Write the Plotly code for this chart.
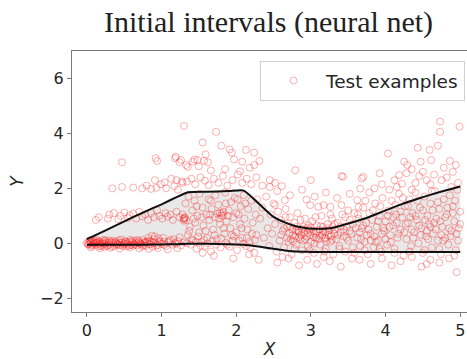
import plotly.graph_objects as go

# ---- interval bounds (neural net) ----
bound_x = [0, 0.25, 0.5, 0.75, 1.0, 1.2, 1.35, 1.6, 1.9, 2.1, 2.3, 2.5, 2.65, 2.8,
           2.95, 3.1, 3.3, 3.5, 3.75, 4.0, 4.2, 4.45, 4.65, 4.85, 5.0]
upper = [0.15, 0.47, 0.80, 1.12, 1.42, 1.68, 1.86, 1.88, 1.90, 1.92, 1.45, 0.96, 0.76,
         0.62, 0.55, 0.53, 0.57, 0.72, 0.93, 1.20, 1.41, 1.64, 1.81, 1.96, 2.07]
lower = [-0.05, -0.05, -0.05, -0.05, -0.04, -0.03, -0.02, -0.02, -0.03, -0.05, -0.12,
         -0.20, -0.26, -0.30, -0.31, -0.32, -0.32, -0.32, -0.32, -0.32, -0.32, -0.32,
         -0.32, -0.32, -0.32]

# ---- test examples ----
pts_a_zero = [
    (0.00, 0.02), (0.02, -0.05), (0.03, 0.08), (0.05, 0.00), (0.06, -0.10), (0.08, 0.05),
    (0.09, -0.02), (0.11, 0.10), (0.12, -0.06), (0.14, 0.03), (0.15, -0.12), (0.17, 0.06),
    (0.19, 0.00), (0.20, -0.08), (0.22, 0.04), (0.24, -0.03), (0.25, 0.09), (0.27, -0.10),
    (0.29, 0.02), (0.31, -0.05), (0.33, 0.07), (0.35, 0.00), (0.37, -0.09), (0.39, 0.05),
    (0.41, -0.02), (0.43, 0.11), (0.45, -0.07), (0.47, 0.03), (0.49, -0.04), (0.51, 0.08),
    (0.53, -0.11), (0.55, 0.01), (0.57, 0.06), (0.59, -0.06), (0.61, 0.03), (0.63, -0.02),
    (0.65, 0.10), (0.67, -0.08), (0.69, 0.04), (0.71, 0.00), (0.73, -0.05), (0.75, 0.12),
    (0.77, 0.02), (0.79, -0.09), (0.81, 0.07), (0.83, -0.03), (0.86, 0.05), (0.88, -0.12),
    (0.90, 0.15), (0.92, 0.00), (0.95, -0.06), (0.97, 0.09), (1.00, -0.02), (1.03, 0.06),
    (1.06, -0.10), (1.09, 0.03), (1.12, 0.12), (1.15, -0.05), (1.18, 0.01), (1.22, 0.08),
    (1.26, -0.08), (1.30, 0.04),
    (0.01, -0.01), (0.04, 0.12), (0.07, -0.07), (0.10, 0.01), (0.13, 0.13), (0.16, -0.03),
    (0.21, 0.11), (0.23, -0.13), (0.26, 0.01), (0.30, 0.10), (0.34, -0.12), (0.38, 0.02),
    (0.42, -0.06), (0.46, 0.14), (0.50, 0.00), (0.54, -0.03), (0.58, 0.13), (0.62, -0.09),
    (0.66, 0.01), (0.70, 0.08), (0.74, -0.12), (0.78, 0.05), (0.82, 0.20), (0.85, -0.04),
    (0.91, 0.25), (0.96, 0.18), (1.02, 0.20),
]
pts_a_zero_more = [
    (0.03, -0.03), (0.06, 0.04), (0.09, 0.09), (0.12, 0.02), (0.15, 0.05), (0.18, -0.10),
    (0.21, -0.01), (0.24, 0.12), (0.28, -0.07), (0.32, 0.03), (0.36, 0.09), (0.40, -0.04),
    (0.44, 0.02), (0.48, -0.10), (0.52, 0.05), (0.56, -0.08), (0.60, 0.09), (0.64, -0.04),
    (0.68, 0.12), (0.72, -0.01), (0.76, -0.07), (0.80, 0.03), (0.84, 0.10), (0.87, 0.28),
    (0.89, 0.02), (0.93, -0.08), (0.98, 0.05), (1.04, -0.05), (1.10, 0.08), (1.16, 0.15),
    (1.20, -0.02), (1.24, 0.22),
    (0.05, -0.15), (0.18, -0.18), (0.31, -0.16), (0.44, -0.19), (0.57, -0.15), (0.70, -0.18),
    (0.83, -0.20), (0.95, -0.17), (1.08, -0.22), (1.21, -0.18),
]
pts_a_upper = [
    (0.12, 0.85), (0.16, 0.95), (0.28, 0.90), (0.30, 1.05), (0.36, 1.10), (0.42, 0.88),
    (0.45, 1.00), (0.50, 1.12), (0.55, 0.92), (0.57, 1.02), (0.62, 1.08), (0.66, 0.90),
    (0.70, 1.15), (0.74, 0.98), (0.78, 1.05), (0.82, 0.85), (0.86, 1.10), (0.90, 0.95),
    (0.94, 1.20), (0.97, 1.00), (1.01, 0.90), (1.05, 1.10), (1.08, 0.97), (1.12, 1.05),
    (1.15, 0.85), (1.20, 1.15), (1.24, 0.95), (1.28, 1.05),
    (0.34, 2.00), (0.47, 2.05), (0.62, 2.03), (0.74, 2.00), (0.80, 2.10), (0.86, 1.98),
    (0.91, 2.30), (0.93, 2.02), (0.99, 2.15), (1.04, 2.22), (1.06, 2.00), (1.13, 2.35),
    (1.17, 2.08), (1.22, 1.95), (1.27, 2.25),
    (0.47, 2.95), (0.92, 3.10), (0.94, 3.00), (1.18, 3.10),
]
pts_b = [
    (1.30, 4.27), (1.73, 4.06), (1.55, 3.67), (1.91, 3.42), (1.94, 3.30), (1.97, 3.05),
    (1.59, 3.24), (1.19, 3.15), (1.26, 3.03), (1.35, 2.78), (1.42, 2.97), (1.48, 3.03),
    (2.13, 3.40), (2.24, 3.30), (2.31, 3.00), (2.24, 2.85), (2.08, 2.97), (1.62, 2.95),
    (1.50, 2.80), (1.80, 3.55),
    (1.20, 2.30), (1.28, 2.20), (1.34, 2.25), (1.40, 2.35), (1.45, 2.15), (1.52, 2.40),
    (1.58, 2.28), (1.63, 2.12), (1.70, 2.35), (1.76, 2.20), (1.82, 2.45), (1.88, 2.10),
    (1.95, 2.30), (2.02, 2.50), (2.08, 2.20), (2.14, 2.35), (2.20, 2.15), (2.27, 2.40),
    (2.35, 2.10), (2.45, 2.30), (2.52, 2.20),
    (1.24, 2.95), (1.33, 2.85), (1.44, 3.05), (1.57, 3.00), (1.66, 2.65), (1.85, 2.70),
    (2.05, 2.62), (2.18, 2.75),
    (1.30, 0.90), (1.31, 0.95), (1.33, 0.85), (1.32, 1.45), (1.35, 0.30), (1.36, 1.70),
    (1.38, 0.60), (1.39, -0.05), (1.41, 1.20), (1.42, 0.10), (1.44, 1.55), (1.45, 0.75),
    (1.47, -0.20), (1.48, 1.00), (1.50, 0.40), (1.51, 1.80), (1.53, 0.05), (1.55, 1.30),
    (1.56, 0.65), (1.58, -0.10), (1.60, 1.05), (1.61, 0.20), (1.63, 1.60), (1.64, 0.85),
    (1.66, -0.30), (1.67, 1.25), (1.69, 0.50), (1.71, 0.95), (1.72, 1.75), (1.74, 0.15),
    (1.76, 1.40), (1.78, 0.70), (1.79, -0.15), (1.81, 1.10), (1.82, 1.00), (1.84, 0.35),
    (1.85, 1.85), (1.87, 0.80), (1.88, -0.05), (1.90, 1.20), (1.92, 0.55), (1.93, 1.50),
    (1.95, 0.10), (1.96, 0.95), (1.98, 1.65), (2.00, 0.40), (2.01, -0.25), (2.03, 1.05),
    (2.05, 0.70), (2.06, 1.35), (2.08, 0.20), (2.10, 1.75), (2.11, 0.90), (2.13, -0.10),
    (2.15, 0.50), (2.16, 1.25), (2.18, 0.05), (2.20, 1.55), (2.22, 0.75), (2.24, -0.35),
    (2.26, 1.05), (2.27, 0.30),
    (1.34, 0.00), (1.40, 0.15), (1.46, 0.05), (1.52, -0.08), (1.57, 0.12), (1.62, 0.00),
    (1.68, 0.08), (1.73, -0.05), (1.80, 0.18), (1.86, 0.02), (1.91, -0.12), (1.97, 0.25),
    (2.04, 0.10), (2.09, -0.02), (2.14, 0.20), (2.19, -0.15), (2.25, 0.12),
    (1.70, -0.45), (1.96, -0.55), (2.17, -0.40), (2.30, -0.60), (1.55, -0.35),
    (1.29, 0.88), (1.31, 0.92), (1.30, 0.82),
    (1.75, 1.08), (1.78, 1.12), (1.80, 1.02), (1.83, 1.15),
]
pts_b_more = [
    (1.37, 0.45), (1.43, 0.90), (1.49, 0.25), (1.54, 0.95), (1.59, 0.45), (1.65, 1.05),
    (1.71, 0.30), (1.77, 0.90), (1.83, 0.55), (1.89, 1.00), (1.94, 0.30), (2.00, 1.10),
    (2.07, 0.55), (2.12, 1.45), (2.21, 0.35), (1.47, 1.35), (1.66, 1.55), (1.86, 1.45),
    (2.02, 1.60),
]
pts_c = [
    (2.79, 2.66), (2.61, 2.08), (3.41, 2.45), (3.68, 2.36), (3.66, 1.99),
    (2.65, 1.57), (2.52, 1.39), (2.94, 1.59), (2.99, 1.39), (3.10, 1.33), (3.17, 1.39),
    (3.26, 1.33), (3.41, 1.39), (3.50, 1.20), (3.62, 1.57), (3.64, 1.33),
    (2.28, 1.60), (2.32, 0.90), (2.35, 1.30), (2.37, 0.20), (2.40, 1.70), (2.42, 0.55),
    (2.44, -0.10), (2.46, 1.05), (2.48, 0.35), (2.50, 1.45), (2.52, 0.70), (2.54, -0.30),
    (2.56, 1.15), (2.58, 0.10), (2.60, 0.85), (2.62, 0.45), (2.64, -0.15), (2.66, 1.25),
    (2.68, 0.60), (2.70, 0.05), (2.72, 0.95), (2.74, -0.40), (2.76, 0.30), (2.78, 0.75),
    (2.80, -0.05), (2.82, 1.10), (2.84, 0.40), (2.86, 0.15), (2.88, -0.25), (2.90, 0.60),
    (2.92, 0.90), (2.94, 0.25), (2.96, -0.10), (2.98, 0.50), (3.00, 0.05), (3.02, 0.80),
    (3.04, -0.35), (3.06, 0.35), (3.08, 0.65), (3.10, 0.15), (3.12, -0.05), (3.14, 1.00),
    (3.16, 0.45), (3.18, 0.20), (3.20, -0.20), (3.22, 0.70), (3.24, 0.30), (3.26, 0.05),
    (3.28, 0.90), (3.30, -0.40), (3.32, 0.50), (3.34, 0.15), (3.36, 0.75), (3.38, -0.10),
    (3.40, 0.40), (3.42, 1.05), (3.44, 0.25), (3.46, -0.30), (3.48, 0.60), (3.50, 0.10),
    (3.52, 0.85), (3.54, 0.35), (3.56, -0.15), (3.58, 1.10), (3.60, 0.55),
    (2.71, 0.35), (2.75, 0.50), (2.79, 0.25), (2.83, 0.45), (2.87, 0.30), (2.91, 0.40),
    (2.95, 0.55), (2.99, 0.30), (3.03, 0.45), (3.07, 0.20), (3.11, 0.50), (3.15, 0.30),
    (3.19, 0.40), (3.23, 0.55), (3.27, 0.25), (3.31, 0.35), (2.73, 0.15), (2.81, 0.60),
    (2.89, 0.10), (2.97, 0.65), (3.05, 0.00), (3.13, 0.62), (3.21, 0.08), (3.29, 0.60),
    (2.55, -0.70), (2.70, -0.55), (2.84, -0.80), (2.95, -0.60), (3.08, -0.75),
    (3.25, -0.65), (3.40, -0.85), (3.55, -0.55), (2.62, -0.50), (3.17, -0.50),
    (2.55, 1.90), (2.72, 1.75), (2.88, 1.95), (3.05, 1.70), (3.20, 1.85), (3.35, 1.65),
    (3.52, 1.80), (2.45, 2.05), (3.00, 2.30),
]
pts_c_more = [
    (2.60, 0.30), (2.64, 0.55), (2.68, 0.20), (2.72, 0.62), (2.76, 0.08), (2.80, 0.45),
    (2.84, 0.22), (2.88, 0.52), (2.92, 0.15), (2.96, 0.38), (3.00, 0.58), (3.04, 0.22),
    (3.08, 0.42), (3.12, 0.28), (3.16, 0.60), (3.20, 0.18), (3.24, 0.48), (3.28, 0.12),
    (3.32, 0.70), (3.36, 0.30), (3.40, 0.62), (3.44, 0.50), (3.48, 0.20), (3.52, 0.45),
    (3.56, 0.70), (2.66, 0.95), (2.86, 0.85), (3.06, 0.95), (3.26, 1.05), (3.46, 0.95),
    (2.78, -0.20), (2.98, -0.25), (3.18, -0.30), (3.38, -0.20), (3.58, -0.35),
]
pts_d = [
    (3.43, 2.42), (3.70, 2.42), (3.92, 2.55), (4.03, 3.27), (4.18, 2.48), (4.22, 2.17),
    (4.25, 2.97), (4.29, 2.85), (4.28, 2.55), (4.35, 2.70), (4.43, 3.48), (4.47, 2.97),
    (4.50, 2.60), (4.55, 2.30), (4.59, 3.40), (4.61, 3.03), (4.65, 2.50), (4.70, 3.55),
    (4.73, 4.43), (4.73, 4.06), (4.78, 2.75), (4.82, 2.40), (4.86, 3.00), (4.90, 2.60),
    (4.94, 2.85), (4.99, 4.25), (4.97, 2.20), (3.85, 2.00), (3.95, 2.15), (4.05, 1.95),
    (4.12, 2.30), (4.40, 2.20), (4.60, 2.15),
    (3.62, 0.20), (3.64, 0.90), (3.66, -0.10), (3.68, 0.55), (3.70, 1.30), (3.72, 0.05),
    (3.74, 0.75), (3.76, -0.40), (3.78, 1.10), (3.80, 0.35), (3.82, 0.85), (3.84, -0.15),
    (3.86, 1.45), (3.88, 0.60), (3.90, 0.10), (3.92, 1.00), (3.94, -0.30), (3.96, 1.65),
    (3.98, 0.45), (4.00, 0.80), (4.02, -0.05), (4.04, 1.20), (4.06, 0.30), (4.08, 1.55),
    (4.10, 0.65), (4.12, -0.20), (4.14, 1.05), (4.16, 0.20), (4.18, 1.80), (4.20, 0.50),
    (4.22, 0.95), (4.24, -0.45), (4.26, 1.35), (4.28, 0.15), (4.30, 0.75), (4.32, 1.60),
    (4.34, -0.10), (4.36, 1.10), (4.38, 0.40), (4.40, 1.85), (4.42, 0.85), (4.44, 0.00),
    (4.46, 1.30), (4.48, 0.55), (4.50, -0.35), (4.52, 1.70), (4.54, 0.25), (4.56, 1.00),
    (4.58, 0.70), (4.60, 1.45), (4.62, -0.15), (4.64, 0.35), (4.66, 1.90), (4.68, 0.90),
    (4.70, 0.10), (4.72, 1.25), (4.74, -0.40), (4.76, 0.60), (4.78, 1.60), (4.80, 0.20),
    (4.82, 1.05), (4.84, -0.05), (4.86, 1.75), (4.88, 0.45), (4.90, 1.35), (4.92, 0.80),
    (4.94, -0.25), (4.96, 1.95), (4.98, 0.55), (5.00, 1.15),
    (3.65, 0.40), (3.75, 0.30), (3.85, 0.25), (3.95, 0.35), (4.05, 0.60), (4.15, 0.75),
    (4.25, 0.40), (4.35, 0.50), (4.45, 0.65), (4.55, 0.45), (4.65, 0.75), (4.75, 0.30),
    (4.85, 0.55), (4.95, 0.35), (3.70, 0.65), (3.80, 0.10), (3.90, 0.80), (4.00, 0.15),
    (4.10, 0.95), (4.20, 1.15), (4.30, 1.35), (4.40, 1.00), (4.50, 1.20), (4.60, 0.60),
    (4.70, 1.50), (4.80, 0.95), (4.90, 1.10), (5.00, 0.70),
    (3.65, -0.60), (3.80, -0.75), (3.95, -0.55), (4.08, -0.80), (4.20, -0.65),
    (4.35, -0.50), (4.48, -0.85), (4.60, -0.60), (4.72, -0.70), (4.85, -0.55),
    (4.95, -1.05), (4.55, -0.75),
]
pts_d_more = [
    (3.63, 1.05), (3.73, 1.55), (3.83, 1.20), (3.93, 1.35), (4.03, 1.00), (4.13, 1.40),
    (4.23, 1.65), (4.33, 0.95), (4.43, 1.55), (4.53, 0.85), (4.63, 1.20), (4.73, 0.80),
    (4.83, 1.30), (4.93, 1.55), (3.67, 0.15), (3.77, 0.50), (3.87, 0.05), (3.97, 0.55),
    (4.07, 0.05), (4.17, 0.35), (4.27, 0.70), (4.37, 0.20), (4.47, 0.30), (4.57, 0.15),
    (4.67, 0.50), (4.77, 0.10), (4.87, 0.25), (4.97, 0.10), (3.72, -0.25), (3.92, -0.20),
    (4.12, -0.35), (4.32, -0.30), (4.52, -0.25), (4.72, -0.20), (4.92, -0.45),
    (4.15, 2.05), (4.45, 2.45), (4.75, 2.30), (4.88, 2.05), (4.35, 1.95), (3.78, 1.85),
    (4.62, 1.90),
]

test_pts = (pts_a_zero + pts_a_zero_more + pts_a_upper + pts_b + pts_b_more
            + pts_c + pts_c_more + pts_d + pts_d_more)
test_x = [p[0] for p in test_pts]
test_y = [p[1] for p in test_pts]

x_ticks = [0, 1, 2, 3, 4, 5]
y_ticks = [-2, 0, 2, 4, 6]

fig = go.Figure()
# gray interval fill
fig.add_trace(go.Scatter(x=bound_x, y=lower, mode="lines",
                         line=dict(width=0, shape="spline", smoothing=0.5),
                         showlegend=False, hoverinfo="skip"))
fig.add_trace(go.Scatter(x=bound_x, y=upper, mode="lines",
                         line=dict(width=0, shape="spline", smoothing=0.5),
                         fill="tonexty", fillcolor="rgba(190,190,190,0.35)",
                         showlegend=False, hoverinfo="skip"))
# test examples
fig.add_trace(go.Scatter(x=test_x, y=test_y, mode="markers", name="Test examples",
                         marker=dict(symbol="circle-open", size=7,
                                     color="rgba(255,0,0,0.31)", line=dict(width=1))))
# bound lines
for yy in (upper, lower):
    fig.add_trace(go.Scatter(x=bound_x, y=yy, mode="lines",
                             line=dict(color="#111", width=2, shape="spline", smoothing=0.5),
                             showlegend=False))

axis_common = dict(showgrid=False, zeroline=False, showline=True, mirror=True,
                   linecolor="#7a7a7a", linewidth=1.2, ticks="outside", ticklen=4,
                   tickcolor="#7a7a7a", tickwidth=1.2,
                   tickfont=dict(family="DejaVu Sans", size=16, color="#262626"))

fig.update_xaxes(range=[-0.2, 5.09], tickvals=x_ticks,
                 title=dict(text="<i>X</i>", font=dict(family="DejaVu Sans", size=17,
                                                       color="#262626"), standoff=7),
                 **axis_common)
fig.update_yaxes(range=[-2.5, 7.0], tickvals=y_ticks,
                 title=dict(text="<i>Y</i>", font=dict(family="DejaVu Sans", size=17,
                                                       color="#262626"), standoff=12),
                 **axis_common)

fig.update_layout(
    width=467, height=359,
    margin=dict(l=72, r=0, t=51, b=47),
    paper_bgcolor="white", plot_bgcolor="white",
    title=dict(text="Initial intervals (neural net)", x=0.575, xanchor="center",
               y=0.94, yanchor="middle", yref="container",
               font=dict(family="Liberation Serif", size=30, color="#222")),
    legend=dict(x=0.995, xanchor="right", y=0.962, yanchor="top", itemwidth=55,
                bordercolor="#d0d0d0", borderwidth=1, bgcolor="rgba(255,255,255,0.8)",
                font=dict(family="DejaVu Sans", size=18.5, color="#262626")),
)

fig.write_html("out.html")
